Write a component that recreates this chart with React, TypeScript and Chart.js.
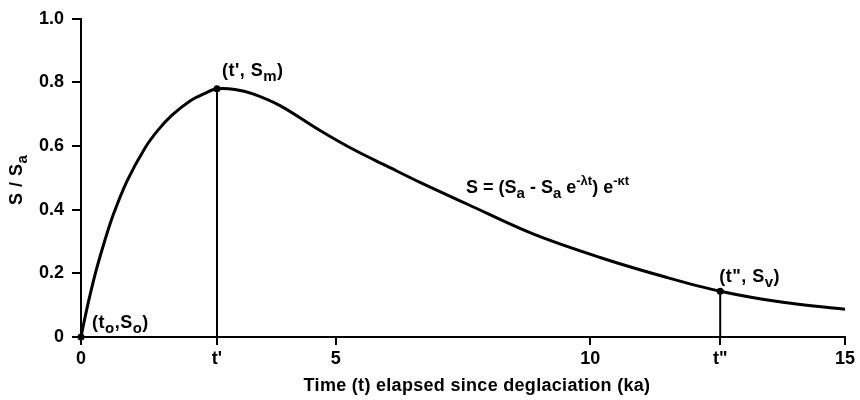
import React, { useEffect, useRef } from "react";
import { Chart, registerables } from "chart.js";

Chart.register(...registerables);

// Curve: time t (ka) and S / Sa
const curveT = [0, 0.04, 0.157, 0.295, 0.471, 0.628, 0.903, 1.257, 1.512, 1.787, 2.14, 2.435, 2.67, 3.024, 3.377, 3.907, 4.693, 5.341, 6.008, 6.656, 7.579, 8.875, 10.19, 11.506, 12.55, 13.78, 15.0];
const curveS = [0, 0.032, 0.118, 0.208, 0.305, 0.382, 0.49, 0.594, 0.65, 0.697, 0.742, 0.766, 0.78, 0.778, 0.764, 0.727, 0.649, 0.59, 0.537, 0.486, 0.418, 0.324, 0.25, 0.187, 0.144, 0.109, 0.087];

// Marked points
const tPrime = 2.67;
const sMax = 0.78;
const tDouble = 12.55;
const sV = 0.144;

// Ticks
const xTickValues = [0, tPrime, 5, 10, tDouble, 15];
const xTickLabels = ["0", "t'", "5", "10", "t\"", "15"];
const yTickValues = [0, 0.2, 0.4, 0.6, 0.8, 1.0];
const yTickLabels = ["0", "0.2", "0.4", "0.6", "0.8", "1.0"];

const xTitle = "Time (t) elapsed since deglaciation (ka)";

const FAMILY = '"Liberation Sans", Arial, Helvetica, sans-serif';
const TICK_SIZE = 18;

type Run = [string, "n" | "sub" | "sup"];

function runFont(kind: string, base: number) {
  const size = kind === "n" ? base : kind === "sub" ? Math.round(base * 0.85) : Math.round(base * 0.72);
  return `bold ${size}px ${FAMILY}`;
}

function measureRuns(ctx: CanvasRenderingContext2D, runs: Run[], base: number) {
  let w = 0;
  for (const [txt, kind] of runs) {
    ctx.font = runFont(kind, base);
    w += ctx.measureText(txt).width;
  }
  return w;
}

function drawRuns(ctx: CanvasRenderingContext2D, runs: Run[], x: number, y: number, base: number) {
  let cx = x;
  for (const [txt, kind] of runs) {
    ctx.font = runFont(kind, base);
    const dy = kind === "sub" ? base * 0.28 : kind === "sup" ? -base * 0.42 : 0;
    ctx.fillText(txt, cx, y + dy);
    cx += ctx.measureText(txt).width;
  }
}

const labelsPlugin = {
  id: "customLabels",
  afterDraw(chart: any) {
    const ctx: any = chart.ctx;
    const xs = chart.scales.x;
    const ys = chart.scales.y;
    ctx.save();
    ctx.fillStyle = "#000";
    ctx.textAlign = "left";
    ctx.textBaseline = "alphabetic";

    // point annotations
    ctx.letterSpacing = "0.5px";
    const p0x = xs.getPixelForValue(0), p0y = ys.getPixelForValue(0);
    drawRuns(ctx, [["(t", "n"], ["o", "sub"], [",S", "n"], ["o", "sub"], [")", "n"]], p0x + 11, p0y - 9, 18);

    const p1x = xs.getPixelForValue(tPrime), p1y = ys.getPixelForValue(sMax);
    drawRuns(ctx, [["(t', S", "n"], ["m", "sub"], [")", "n"]], p1x + 5, p1y - 13, 18);

    const p2x = xs.getPixelForValue(tDouble), p2y = ys.getPixelForValue(sV);
    drawRuns(ctx, [["(t\", S", "n"], ["v", "sub"], [")", "n"]], p2x - 1, p2y - 9, 18);

    // formula
    ctx.letterSpacing = "0px";
    const fx = xs.getPixelForValue(7.56), fy = ys.getPixelForValue(0.453);
    drawRuns(
      ctx,
      [["S = (S", "n"], ["a", "sub"], [" - S", "n"], ["a", "sub"], [" e", "n"], ["-\u03BBt", "sup"], [") e", "n"], ["-\u03BAt", "sup"]],
      fx, fy, 18
    );

    // x title
    ctx.letterSpacing = "0.3px";
    ctx.font = `bold 18px ${FAMILY}`;
    ctx.textAlign = "center";
    ctx.fillText(xTitle, (xs.left + xs.right) / 2 + 14, 391);

    // y title (rotated)
    ctx.letterSpacing = "0.5px";
    const yRuns: Run[] = [["S / S", "n"], ["a", "sub"]];
    ctx.textAlign = "left";
    const w = measureRuns(ctx, yRuns, 18);
    ctx.translate(22, (ys.top + ys.bottom) / 2 + 2);
    ctx.rotate(-Math.PI / 2);
    drawRuns(ctx, yRuns, -w / 2, 0, 18);
    ctx.restore();
  },
};

export default function App() {
  const canvasRef = useRef<HTMLCanvasElement | null>(null);

  useEffect(() => {
    if (!canvasRef.current) return;
    const curve = curveT.map((t, i) => ({ x: t, y: curveS[i] }));
    const chart = new Chart(canvasRef.current, {
      type: "scatter",
      data: {
        datasets: [
          {
            data: curve,
            showLine: true,
            borderColor: "#000",
            borderWidth: 3,
            pointRadius: 0,
            tension: 0.35,
            clip: false,
          } as any,
          {
            data: [{ x: tPrime, y: 0 }, { x: tPrime, y: sMax }],
            showLine: true,
            borderColor: "#000",
            borderWidth: 2,
            pointRadius: 0,
            clip: false,
          } as any,
          {
            data: [{ x: tDouble, y: 0 }, { x: tDouble, y: sV }],
            showLine: true,
            borderColor: "#000",
            borderWidth: 2,
            pointRadius: 0,
            clip: false,
          } as any,
          {
            data: [{ x: 0, y: 0 }, { x: tPrime, y: sMax }, { x: tDouble, y: sV }],
            showLine: false,
            pointRadius: 3.5,
            pointBackgroundColor: "#000",
            pointBorderColor: "#000",
            pointBorderWidth: 0,
            clip: false,
          } as any,
        ],
      },
      options: {
        animation: false,
        responsive: false,
        events: [],
        layout: { padding: { left: 0, top: 16, right: 15, bottom: 0 } },
        plugins: { legend: { display: false }, tooltip: { enabled: false }, title: { display: false } },
        scales: {
          x: {
            type: "linear",
            min: 0,
            max: 15,
            afterBuildTicks: (scale: any) => {
              scale.ticks = xTickValues.map((v) => ({ value: v }));
            },
            afterFit: (scale: any) => {
              scale.height = 63;
            },
            ticks: {
              autoSkip: false,
              maxRotation: 0,
              padding: 3,
              color: "#000",
              font: { family: FAMILY, size: TICK_SIZE, weight: "bold" },
              callback: (_v: any, i: number) => xTickLabels[i],
            },
            grid: { drawOnChartArea: false, drawTicks: true, tickLength: 8, color: "#000", lineWidth: 2 },
            border: { display: true, color: "#000", width: 2 },
          },
          y: {
            type: "linear",
            min: 0,
            max: 1,
            afterBuildTicks: (scale: any) => {
              scale.ticks = yTickValues.map((v) => ({ value: v }));
            },
            afterFit: (scale: any) => {
              scale.width = 81;
            },
            ticks: {
              autoSkip: false,
              padding: 8,
              color: "#000",
              font: { family: FAMILY, size: TICK_SIZE, weight: "bold" },
              callback: (_v: any, i: number) => yTickLabels[i],
            },
            grid: { drawOnChartArea: false, drawTicks: true, tickLength: 9, color: "#000", lineWidth: 2 },
            border: { display: true, color: "#000", width: 2 },
          },
        },
      } as any,
      plugins: [labelsPlugin],
    });
    return () => chart.destroy();
  }, []);

  return (
    <div style={{ position: "fixed", left: 0, top: 0, width: 860, height: 400, background: "#fff" }}>
      <canvas ref={canvasRef} width={860} height={400} style={{ width: 860, height: 400 }} />
    </div>
  );
}
